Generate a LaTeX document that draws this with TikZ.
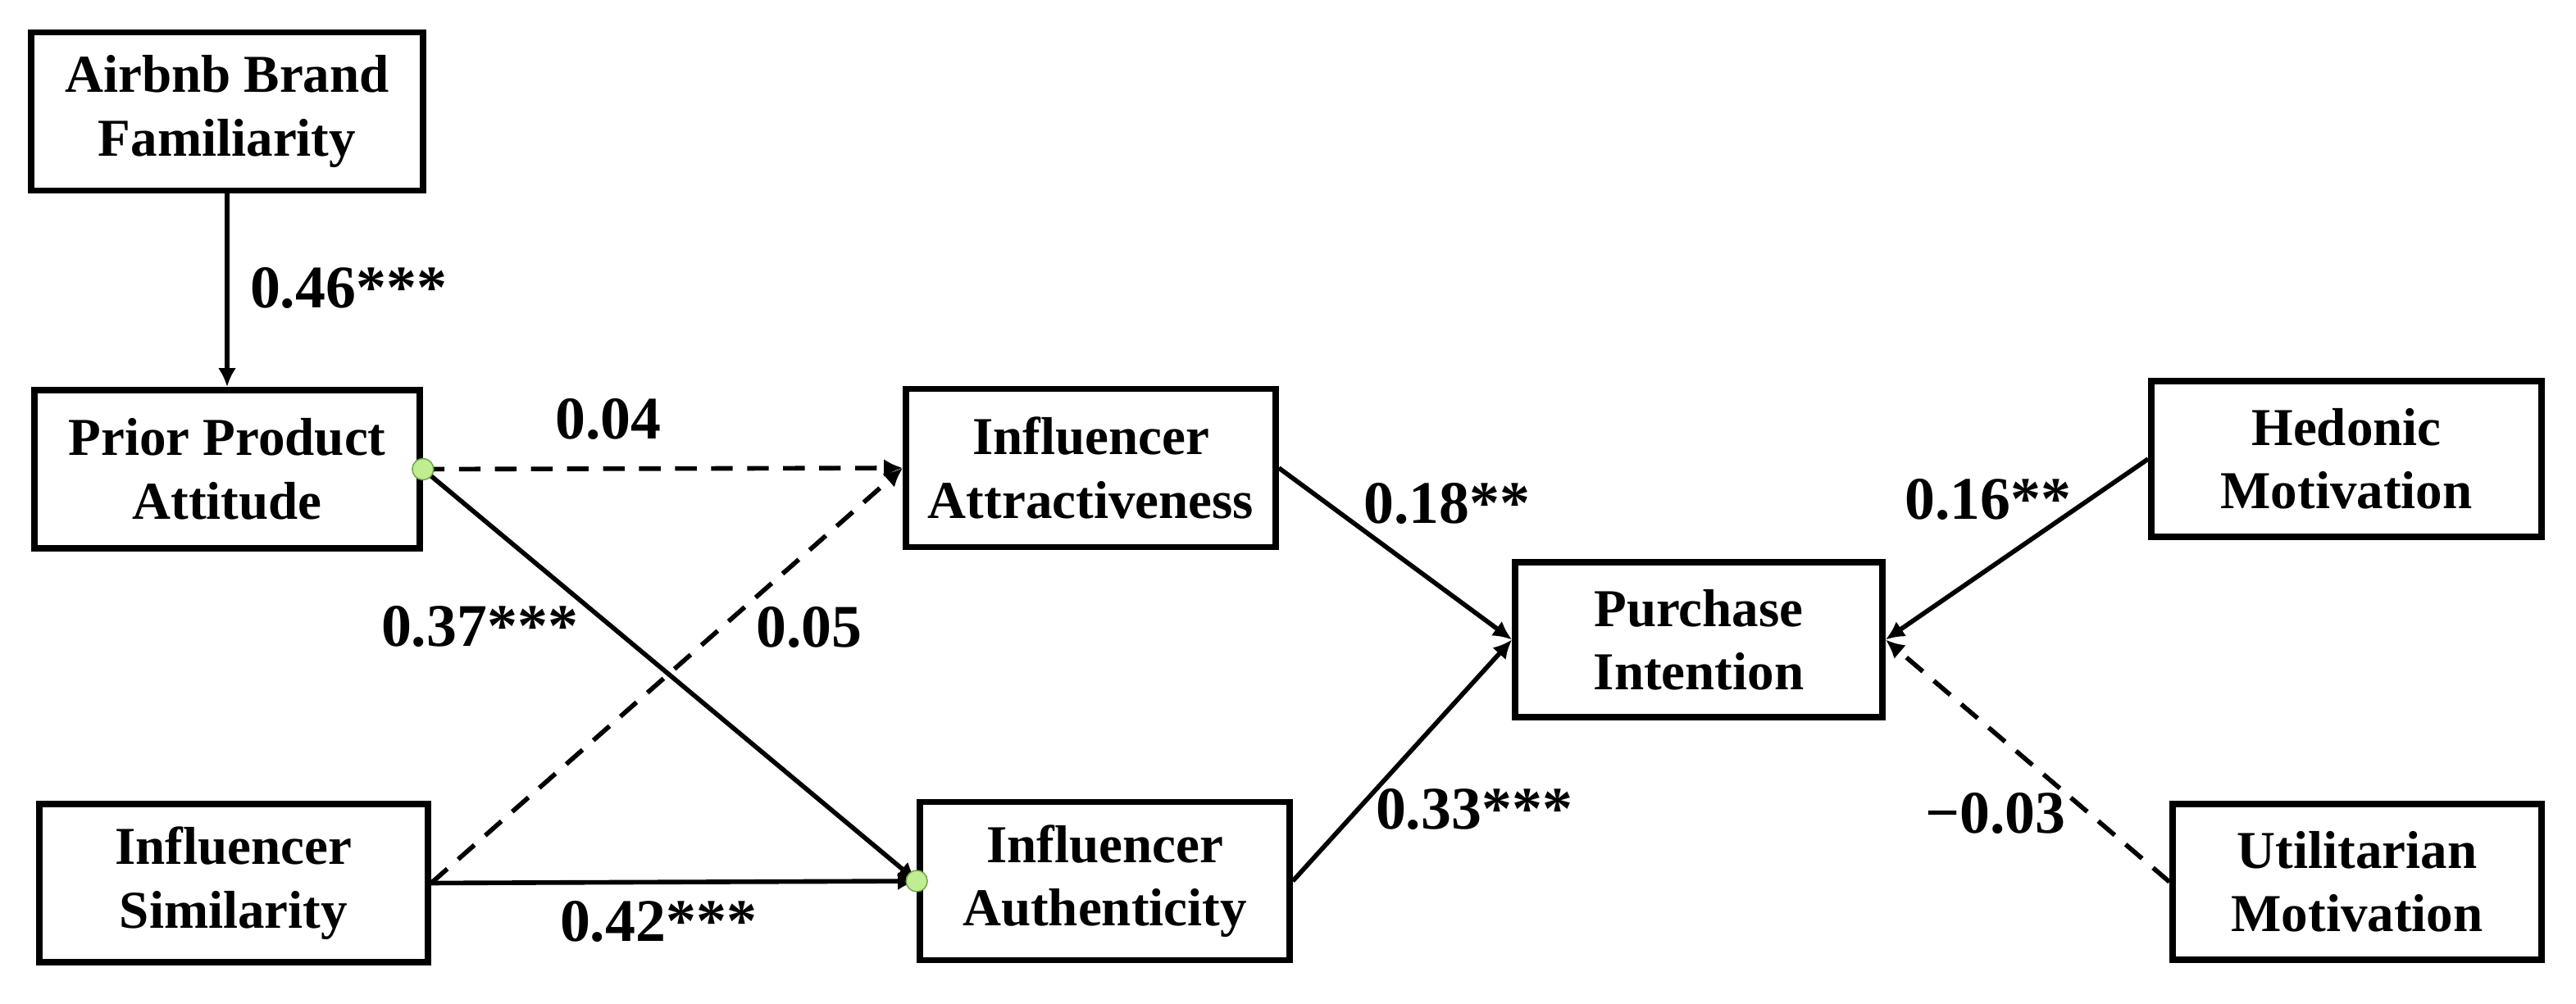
\documentclass[tikz,border=0pt]{standalone}
\usepackage{fontspec}
\setmainfont{Liberation Serif}
\usetikzlibrary{arrows.meta}
\definecolor{dotgreen}{RGB}{192,236,146}
\definecolor{dotrim}{RGB}{110,160,70}

\begin{document}
\begin{tikzpicture}[
        construct/.style = {draw, line width = 2.2pt, align = center, inner sep = 0pt,
                minimum height = 1.93cm, font = \fontsize{18.5}{22}\selectfont\bfseries},
        coef/.style = {inner sep = 0pt, font = \fontsize{21}{25}\selectfont\bfseries},
        effect/.style = {->, line width = 1.6pt},
        nonsig/.style = {effect, dash pattern = on 7.5pt off 5pt},
        > = {Latex[length = 2.3mm, width = 2.2mm]}]

                \useasboundingbox (0,0) rectangle (31.42,12.25);

                \node [construct, minimum width = 4.78cm] (brand) at (2.77, 10.89) {Airbnb Brand\\Familiarity};
                \node [construct, minimum width = 4.70cm] (prior) at (2.77, 6.525) {Prior Product\\Attitude};
                \node [construct, minimum width = 4.74cm] (simil) at (2.85, 1.475) {Influencer\\Similarity};

                \node [construct, minimum width = 4.51cm] (attract) at (13.305, 6.54) {Influencer\\Attractiveness};
                \node [construct, minimum width = 4.51cm] (authent) at (13.475, 1.50) {Influencer\\Authenticity};

                \node [construct, minimum width = 4.48cm, minimum height = 1.89cm] (purchase) at (20.72, 4.445)
                {Purchase\\Intention};

                \node [construct, minimum width = 4.76cm, minimum height = 1.90cm] (hedonic) at (28.62, 6.65)
                {Hedonic\\Motivation};
                \node [construct, minimum width = 4.50cm, minimum height = 1.90cm] (utilit) at (28.75, 1.49)
                {Utilitarian\\Motivation};

                \draw [effect] (brand) -- (prior);
                \draw [nonsig] (prior.east) -- (attract.west);
                \draw [effect] (prior.east) -- (authent.west);
                \draw [nonsig] (simil.east) -- (attract.west);
                \draw [effect] (simil.east) -- (authent.west);
                \draw [effect] (attract.east) -- (purchase.west);
                \draw [effect] (authent.east) -- (purchase.west);
                \draw [effect] (hedonic.west) -- (purchase.east);
                \draw [nonsig] (utilit.west) -- (purchase.east);

                \draw [dotrim, fill = dotgreen, line width = 0.4pt] (prior.east) circle (0.13);
                \draw [dotrim, fill = dotgreen, line width = 0.4pt] (authent.west) circle (0.13);

                \node [coef] (c46) at (4.25, 8.73) {0.46***};
                \node [coef] (c04) at (7.42, 7.13) {0.04};
                \node [coef] (c37) at (5.85, 4.60) {0.37***};
                \node [coef] (c05) at (9.87, 4.59) {0.05};
                \node [coef] (c42) at (8.03, 1.00) {0.42***};
                \node [coef] (c18) at (17.65, 6.10) {0.18**};
                \node [coef] (c33) at (17.98, 2.37) {0.33***};
                \node [coef] (c16) at (24.25, 6.15) {0.16**};
                \node [coef] (c03) at (24.34, 2.32) {−0.03};

            \end{tikzpicture}
\end{document}
